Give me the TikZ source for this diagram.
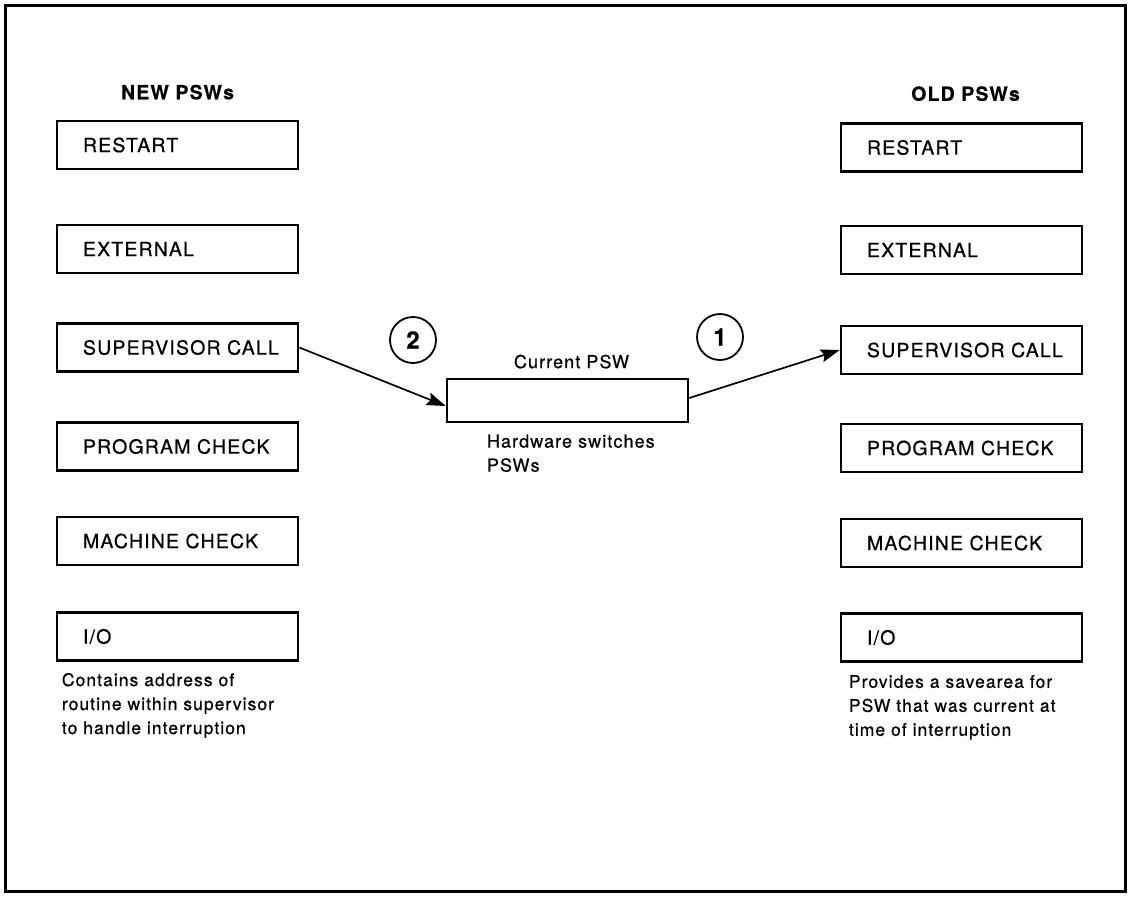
\documentclass[tikz,border=0pt]{standalone}
\usepackage{fontspec}
\setmainfont{TeX Gyre Heros}[LetterSpace=6, FakeBold=0.6]
\usepackage{tikz}
\usetikzlibrary{positioning,arrows.meta}

\begin{document}
\begin{tikzpicture}[
        x=1pt, y=-1pt,
        pswbox/.style={rectangle, draw=black, line width=2.6pt, minimum width=241pt, minimum height=48pt, text width=189pt, inner xsep=26pt, align=left, font=\fontsize{19.5}{22}\selectfont},
        title/.style={inner sep=0pt, font=\fontsize{19.5}{22}\selectfont\bfseries},
        note/.style={inner sep=0pt, align=left, font=\fontsize{17.5}{24}\selectfont},
        numcircle/.style={circle, draw=black, line width=1.8pt, minimum size=46pt, inner sep=0pt, font=\fontsize{24}{24}\selectfont\bfseries},
        arrow/.style={-{Stealth[length=19pt, width=13pt, inset=3pt]}, line width=1.7pt}
    ]
    \useasboundingbox (0,0) rectangle (1131,896);
    \draw[line width=2.6pt] (5.3,5.3) rectangle (1125.7,891.7);

    % new PSWs
    \node[pswbox] (nrestart) at (177.5,145) {RESTART};
    \node[pswbox] (nexternal) at (177.5,249) {EXTERNAL};
    \node[pswbox] (nsvc) at (177.5,347.5) {SUPERVISOR~CALL};
    \node[pswbox] (nprog) at (177.5,446.5) {PROGRAM~CHECK};
    \node[pswbox] (nmach) at (177.5,541) {MACHINE~CHECK};
    \node[pswbox] (nio) at (177.5,636.5) {I/O};
    \node[title] (newtitle) [above=20pt of nrestart] {NEW PSWs};
    \node[note] (nnote) [below right=11pt and 6pt of nio.south west] {Contains address of\\routine within supervisor\\to handle interruption};

    % old PSWs
    \node[pswbox] (orestart) at (961.5,147.5) {RESTART};
    \node[pswbox] (oexternal) at (961.5,250) {EXTERNAL};
    \node[pswbox] (osvc) at (961.5,350) {SUPERVISOR~CALL};
    \node[pswbox] (oprog) at (961.5,448) {PROGRAM~CHECK};
    \node[pswbox] (omach) at (961.5,543) {MACHINE~CHECK};
    \node[pswbox] (oio) at (961.5,637.5) {I/O};
    \node[title, xshift=4pt] (oldtitle) [above=21pt of orestart] {OLD PSWs};
    \node[note] (onote) [below right=12pt and 9pt of oio.south west] {Provides a savearea for\\PSW that was current at\\time of interruption};

    % current PSW
    \node[pswbox, minimum height=43pt] (cur) at (567.5,400.5) {};
    \node[inner sep=0pt, xshift=4pt, font=\fontsize{18}{20}\selectfont] (curlabel) [above=9pt of cur] {Current PSW};
    \node[note, font=\fontsize{18}{24}\selectfont] (hwnote) [below right=11pt and 41pt of cur.south west] {Hardware switches\\PSWs};

    \node[numcircle] (num2) at (413,340) {2};
    \node[numcircle] (num1) at (720,337) {1};

    \draw[arrow] ([yshift=2.5pt]cur.east) -- (osvc.west);
    \draw[arrow] (nsvc.east) -- ([yshift=-5.5pt]cur.west);

\end{tikzpicture}
\end{document}
